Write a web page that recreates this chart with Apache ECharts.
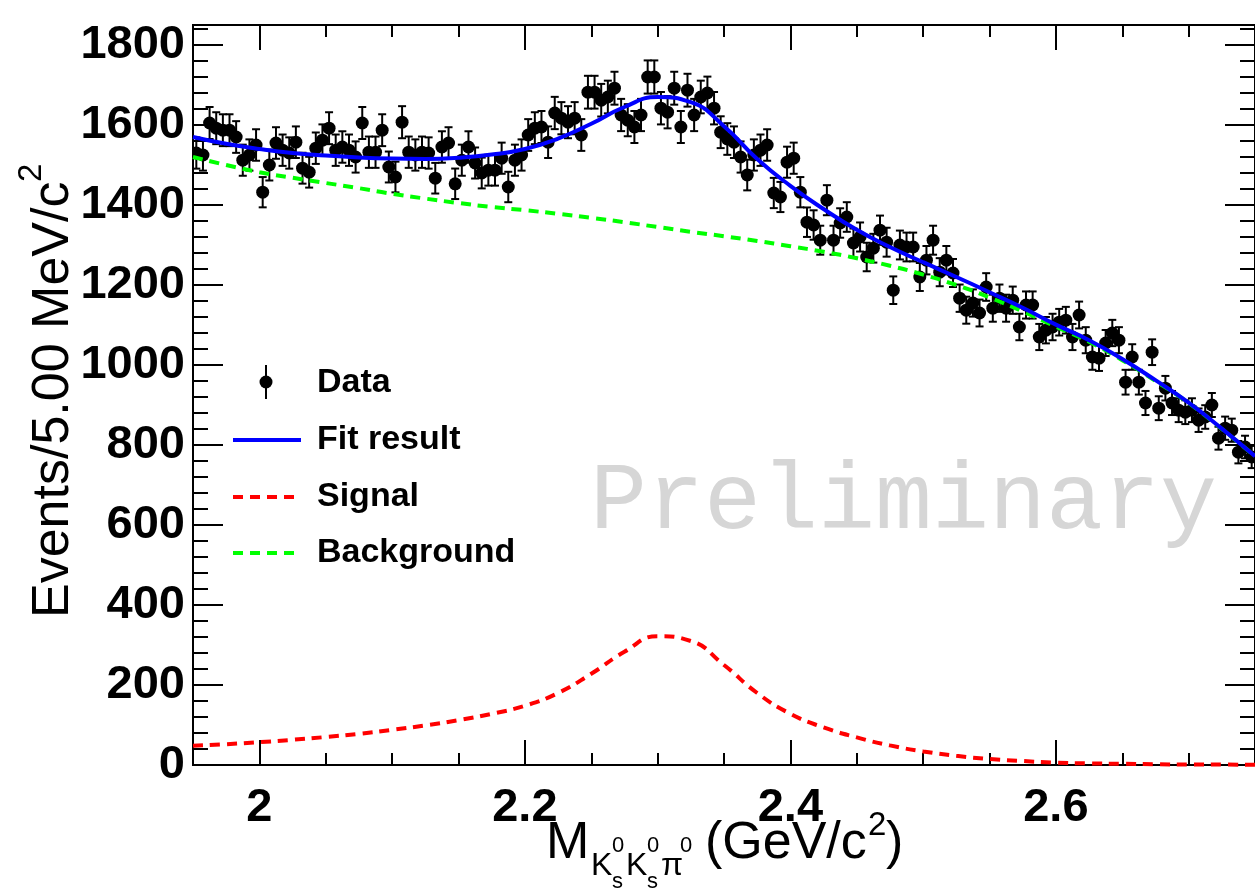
<!DOCTYPE html>
<html><head><meta charset="utf-8">
<script src="https://cdn.jsdelivr.net/npm/echarts@6/dist/echarts.min.js"></script>
<style>html,body{margin:0;padding:0;background:#fff}#c{width:1255px;height:892px}</style>
</head><body><div id="c"></div>
<script>
// ---- data ----
const binLow = 1.95;      // GeV/c^2, first bin low edge
const binWidth = 0.005;   // 5.00 MeV bins
const counts = [
1530,1525,1605,1592,1587,1587,1570,1512,1525,1550,
1432,1500,1555,1537,1530,1557,1492,1482,1542,1562,
1592,1537,1545,1537,1520,1605,1532,1532,1587,1495,
1470,1607,1532,1525,1532,1530,1467,1545,1555,1453,
1512,1545,1505,1480,1487,1487,1517,1445,1512,1525,
1575,1592,1595,1557,1630,1617,1607,1617,1575,1682,
1682,1662,1670,1692,1625,1612,1595,1625,1720,1720,
1642,1632,1692,1595,1687,1625,1670,1680,1642,1582,
1565,1557,1520,1475,1525,1537,1550,1430,1420,1507,
1517,1432,1357,1350,1312,1412,1312,1355,1370,1305,
1320,1270,1292,1337,1307,1187,1300,1295,1295,1220,
1262,1312,1232,1262,1230,1167,1137,1155,1130,1195,
1142,1167,1142,1162,1095,1150,1150,1070,1087,1095,
1107,1112,1070,1125,1062,1020,1017,1055,1080,1062,
957,1020,957,905,1032,892,942,905,887,882,
887,862,870,900,817,842,837,782,795,770
];
const curveX = [1.95,1.975,2.0,2.025,2.05,2.075,2.1,2.125,2.15,2.175,2.2,2.225,2.25,2.275,2.3,2.325,2.35,2.375,2.4,2.425,2.45,2.475,2.5,2.525,2.55,2.575,2.6,2.625,2.65,2.675,2.7,2.725,2.75];
const fitY = [1570,1553,1540,1530,1524,1519,1516,1515,1518,1526,1540,1566,1603,1645,1670,1657,1597,1515,1448,1390,1338,1295,1257,1220,1182,1143,1101,1062,1015,962,906,841,772];
const sigY = [48,52,57,63,70,78,88,99,112,128,148,180,228,283,322,310,250,180,128,94,69,49,34,23,15,10,6,4,3,2,1,1,0.5];
const bgY  = [1520,1500,1482,1468,1455,1442,1428,1416,1405,1395,1387,1378,1368,1357,1345,1333,1322,1310,1297,1283,1267,1248,1226,1200,1169,1134,1096,1058,1012,960,905,840,772];
const xTickLabels = [2.0, 2.2, 2.4, 2.6];
const yTickLabels = [0,200,400,600,800,1000,1200,1400,1600,1800];
const legendNames = ['Data','Fit result','Signal','Background'];

// ---- build ----
const xMin = 1.95, xMax = 2.75, yMin = 0, yMax = 1850;
const xMinor = []; for (let k = 0; k <= 16; k++) xMinor.push(+(1.95 + k*0.05).toFixed(3));
const yMinor = []; for (let v = 0; v <= 1840; v += 40) yMinor.push(v);
const pts = counts.map((c,i)=>[+(binLow+(i+0.5)*binWidth).toFixed(4), c, Math.sqrt(c)]);
const pair = arr => curveX.map((x,i)=>[x, arr[i]]);

const F = 'Liberation Sans, Arial, Helvetica, sans-serif';
function xAx(pos, ticks, len, labels) {
  return {type:'value', position:pos, min:xMin, max:xMax, gridIndex:0,
    axisLine:{show:true, onZero:false, lineStyle:{color:'#000', width:2}},
    axisTick:{show:true, inside:true, length:len, customValues:ticks, lineStyle:{color:'#000', width:2}},
    axisLabel:labels ? {show:true, customValues:ticks, margin:20, color:'#000', fontFamily:F, fontWeight:'bold', fontSize:47,
        formatter:v=>String(+(+v).toFixed(1))} : {show:false},
    splitLine:{show:false}};
}
function yAx(pos, ticks, len, labels) {
  return {type:'value', position:pos, min:yMin, max:yMax, gridIndex:0,
    axisLine:{show:true, onZero:false, lineStyle:{color:'#000', width:2}},
    axisTick:{show:true, inside:true, length:len, customValues:ticks, lineStyle:{color:'#000', width:2}},
    axisLabel:labels ? {show:true, customValues:ticks, margin:8, color:'#000', fontFamily:F, fontWeight:'bold', fontSize:47,
        formatter:v=>String(Math.round(v))} : {show:false},
    splitLine:{show:false}};
}

const chart = echarts.init(document.getElementById('c'), null, {renderer:'canvas'});
const gx = 193, gy = 25, gw = 1063, gh = 740;
const legY = [383, 440, 497, 553];
const T = (text, x, y, size, extra) => Object.assign({type:'text', x:x, y:y, style:{text:text, font:size+'px '+F, fill:'#000', verticalAlign:'middle', align:'left'}}, extra||{});
chart.setOption({
  animation:false,
  backgroundColor:'#fff',
  grid:{left:gx, top:gy, width:gw, height:gh, containLabel:false},
  xAxis:[xAx('bottom', xTickLabels, 25, true), xAx('bottom', xMinor, 12, false), xAx('top', xTickLabels, 25, false), xAx('top', xMinor, 12, false)],
  yAxis:[yAx('left', yTickLabels, 30, true), yAx('left', yMinor, 15, false), yAx('right', yTickLabels, 30, false), yAx('right', yMinor, 15, false)],
  series:[
    {name:legendNames[0], type:'custom', xAxisIndex:0, yAxisIndex:0, data:pts, z:3, clip:true,
     renderItem:(params, api)=>{
       const x = api.value(0), y = api.value(1), e = api.value(2);
       const p = api.coord([x,y]), lo = api.coord([x,y-e]), hi = api.coord([x,y+e]);
       const c = 4, st = {stroke:'#000', lineWidth:2};
       return {type:'group', children:[
         {type:'line', shape:{x1:p[0],y1:hi[1],x2:p[0],y2:lo[1]}, style:st},
         {type:'line', shape:{x1:p[0]-c,y1:hi[1],x2:p[0]+c,y2:hi[1]}, style:st},
         {type:'line', shape:{x1:p[0]-c,y1:lo[1],x2:p[0]+c,y2:lo[1]}, style:st},
         {type:'circle', shape:{cx:p[0],cy:p[1],r:6.5}, style:{fill:'#000'}}
       ]};
     }},
    {name:legendNames[3], type:'line', data:pair(bgY), smooth:0.5, showSymbol:false, z:4,
     lineStyle:{color:'#00ff00', width:4, type:[10,7]}},
    {name:legendNames[2], type:'line', data:pair(sigY), smooth:0.5, showSymbol:false, z:4,
     lineStyle:{color:'#ff0000', width:4, type:[10,7]}},
    {name:legendNames[1], type:'line', data:pair(fitY), smooth:0.5, showSymbol:false, z:5,
     lineStyle:{color:'#0000ff', width:4}}
  ],
  graphic:[
    {type:'text', left:590, top:455, z:1, style:{text:'Preliminary', font:'95px "Liberation Mono", "DejaVu Sans Mono", monospace', fill:'#d6d6d6'}},
    // legend
    {type:'line', shape:{x1:266,y1:365,x2:266,y2:399}, style:{stroke:'#000', lineWidth:2}},
    {type:'circle', shape:{cx:266,cy:382,r:6.5}, style:{fill:'#000'}},
    {type:'line', shape:{x1:233,y1:legY[1],x2:301,y2:legY[1]}, style:{stroke:'#0000ff', lineWidth:4}},
    {type:'line', shape:{x1:233,y1:legY[2],x2:301,y2:legY[2]}, style:{stroke:'#ff0000', lineWidth:4, lineDash:[10,7]}},
    {type:'line', shape:{x1:233,y1:legY[3],x2:301,y2:legY[3]}, style:{stroke:'#00ff00', lineWidth:4, lineDash:[10,7]}},
    ...legendNames.map((n,i)=>({type:'text', x:317, y:legY[i], style:{text:n, font:'bold 34px '+F, fill:'#000', verticalAlign:'middle', align:'left'}})),
    // y title (rotated)
    {type:'text', x:80, y:618, rotation:Math.PI/2, style:{text:'Events/5.00 MeV/c', font:'52px '+F, fill:'#000', verticalAlign:'bottom', align:'left'}},
    {type:'text', x:48, y:182, rotation:Math.PI/2, style:{text:'2', font:'33px '+F, fill:'#000', verticalAlign:'bottom', align:'left'}},
    // x title
    T('M', 546, 844, 52),
    T('K', 591, 866, 32),
    T('s', 612, 882, 22),
    T('0', 612, 846, 22),
    T('K', 626, 866, 32),
    T('s', 647, 882, 22),
    T('0', 647, 846, 22),
    T('\u03c0', 661, 866, 32),
    T('0', 680, 846, 22),
    T('(GeV/c', 705, 844, 52),
    T('2', 868, 826, 33),
    T(')', 886, 844, 52)
  ]
});
</script></body></html>
